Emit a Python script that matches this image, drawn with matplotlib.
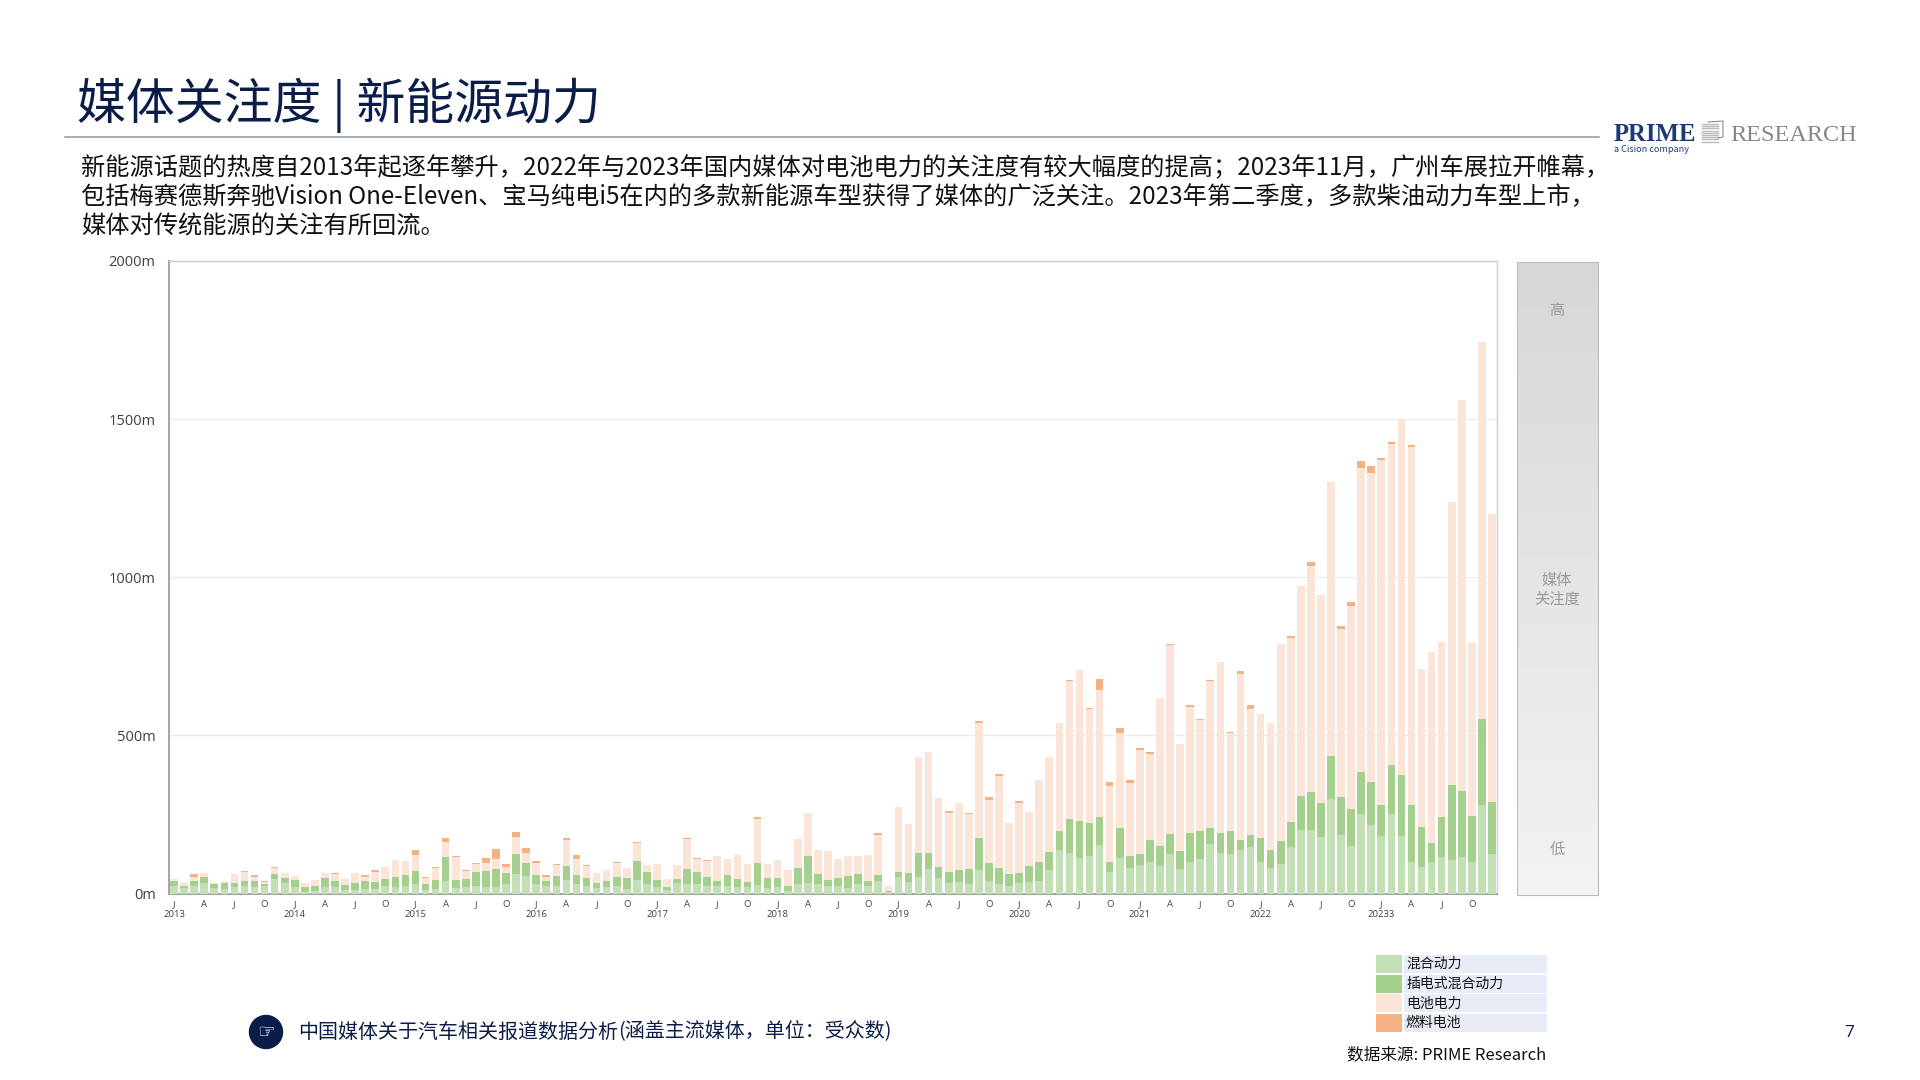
import matplotlib as mpl
mpl.use('agg')
import matplotlib.pyplot as plt
from matplotlib.patches import Ellipse, Rectangle
import numpy as np

plt.rcParams['font.family'] = ['Noto Sans CJK SC', 'DejaVu Sans']

W, H = 1920, 1080

# values in m, one per month from Jan 2013 to Dec 2023
hybrid = [23, 18, 24, 32, 18, 15, 21, 23, 19, 24, 45, 34,
          21, 6, 9, 21, 21, 11, 11, 15, 15, 25, 20, 23,
          31, 11, 14, 39, 17, 19, 23, 20, 21, 31, 61, 56,
          31, 23, 23, 42, 31, 23, 17, 19, 23, 13, 43, 31,
          21, 12, 32, 31, 31, 24, 24, 23, 21, 19, 27, 18,
          20, 7, 31, 33, 31, 24, 24, 16, 31, 24, 38, 5,
          52, 35, 52, 78, 50, 33, 35, 31, 75, 38, 30, 25,
          34, 36, 40, 73, 138, 127, 113, 117, 153, 68, 111, 82,
          90, 100, 88, 126, 77, 101, 110, 156, 127, 124, 137, 147,
          99, 80, 93, 147, 200, 200, 179, 298, 185, 150, 250, 218,
          181, 250, 181, 101, 83, 101, 114, 107, 115, 99, 280, 124]
phev = [15, 6, 15, 20, 11, 17, 12, 16, 19, 7, 16, 16,
        21, 14, 14, 27, 18, 16, 22, 24, 20, 20, 33, 35,
        41, 18, 30, 77, 25, 26, 44, 52, 56, 35, 63, 42,
        27, 15, 32, 44, 28, 26, 16, 22, 30, 37, 59, 37,
        21, 7, 14, 45, 37, 27, 16, 35, 24, 17, 71, 32,
        28, 16, 50, 85, 32, 18, 25, 39, 31, 17, 21, 2,
        17, 30, 76, 49, 35, 35, 39, 46, 102, 58, 52, 37,
        32, 52, 61, 57, 61, 107, 116, 107, 89, 33, 95, 37,
        36, 70, 61, 63, 56, 89, 89, 51, 64, 73, 32, 37,
        78, 57, 73, 78, 108, 121, 108, 138, 120, 117, 133, 133,
        100, 157, 193, 178, 128, 60, 128, 236, 210, 146, 271, 165]
battery = [9, 8, 13, 14, 5, 7, 30, 28, 15, 6, 21, 14,
           13, 12, 19, 18, 24, 19, 33, 14, 34, 38, 52, 44,
           49, 19, 38, 47, 74, 26, 25, 23, 33, 19, 56, 31,
           40, 14, 35, 82, 51, 39, 31, 33, 44, 31, 58, 21,
           51, 26, 43, 97, 41, 51, 77, 52, 78, 56, 136, 42,
           57, 50, 91, 137, 76, 92, 59, 64, 57, 80, 126, 16,
           204, 156, 304, 321, 216, 187, 213, 175, 363, 200, 291, 162,
           221, 170, 258, 301, 340, 438, 479, 360, 400, 240, 303, 231,
           329, 272, 468, 596, 339, 400, 350, 465, 540, 311, 525, 399,
           392, 401, 623, 583, 663, 714, 657, 866, 532, 643, 964, 978,
           1090, 1015, 1127, 1132, 498, 604, 554, 896, 1236, 546, 1194, 912]
fuel = [0, 0, 9, 0, 0, 0, 0, 4, 4, 4, 2, 0,
        0, 0, 0, 0, 3, 0, 0, 5, 5, 0, 0, 0,
        17, 4, 3, 13, 3, 4, 6, 17, 30, 8, 16, 14,
        5, 6, 4, 6, 11, 3, 0, 0, 2, 0, 2, 0,
        0, 0, 0, 3, 2, 4, 0, 0, 0, 0, 9, 1,
        2, 0, 0, 0, 0, 0, 2, 0, 0, 0, 5, 0,
        0, 0, 0, 0, 0, 7, 0, 4, 4, 8, 4, 0,
        6, 0, 0, 0, 0, 2, 0, 4, 37, 12, 13, 8,
        6, 5, 2, 3, 2, 7, 4, 3, 0, 4, 11, 12,
        0, 0, 0, 6, 0, 12, 0, 0, 8, 11, 20, 23,
        6, 5, 0, 7, 0, 0, 0, 0, 0, 0, 0, 0]

series_names = ['混合动力', '插电式混合动力', '电池电力', '燃料电池']
series_colors = ['#C3DFB5', '#A5CF8C', '#FBE4D8', '#F4B183']
years = ['2013', '2014', '2015', '2016', '2017', '2018',
         '2019', '2020', '2021', '2022', '20233']
quarters = ['J', 'A', 'J', 'O']
y_ticks = [0, 500, 1000, 1500, 2000]

title = '媒体关注度 | 新能源动力'
body = ['新能源话题的热度自2013年起逐年攀升，2022年与2023年国内媒体对电池电力的关注度有较大幅度的提高；2023年11月，广州车展拉开帷幕，',
        '包括梅赛德斯奔驰Vision One-Eleven、宝马纯电i5在内的多款新能源车型获得了媒体的广泛关注。2023年第二季度，多款柴油动力车型上市，',
        '媒体对传统能源的关注有所回流。']


def px_axes(fig, x0, y0, x1, y1):
    return fig.add_axes([x0 / W, 1 - y1 / H, (x1 - x0) / W, (y1 - y0) / H])


fig = plt.figure(figsize=(W / 100, H / 100), dpi=100, facecolor='white')

# page layer in pixel coordinates, for everything around the chart
page = fig.add_axes([0, 0, 1, 1])
page.set_xlim(0, W)
page.set_ylim(H, 0)
page.axis('off')

navy = '#0B1C48'
page.text(77, 105, title, fontsize=35.2, color=navy, va='center')
page.plot([65, 1599], [137, 137], color='#8E96A6', lw=1.1)
for i, line in enumerate(body):
    page.text(81, 168 + i * 29.5, line, fontsize=17.45, color='#111111', va='center')

# logo
page.text(1614, 141, 'PRIME', family='Liberation Serif', weight='bold',
          fontsize=17.8, color='#1B3A75', va='baseline')
page.text(1730, 141, 'RESEARCH', family='Liberation Serif', fontsize=17.5,
          color='#84888C', va='baseline')
page.text(1614, 150, 'a Cision company', fontsize=6.5, color='#1B3A75', va='center')
for y in np.arange(124, 142, 2.2):
    page.plot([1702, 1718], [y, y], color='#B8BCC0', lw=1)
page.plot([1708, 1723, 1723, 1718], [122, 121, 137, 138], color='#8C9094', lw=0.8)

# footer
page.add_patch(Ellipse((266, 1032), 33, 33, color=navy))
page.text(266, 1032, '☞', fontsize=14, color='white', family='DejaVu Sans',
          ha='center', va='center')
page.text(298, 1032, '中国媒体关于汽车相关报道数据分析', fontsize=14.4, color=navy, va='center')
page.text(618, 1032, '(涵盖主流媒体，单位：受众数)', fontsize=14.4, color=navy,
          style='italic', va='center')
page.text(1849, 1033, '7', fontsize=12.5, color=navy, ha='center', va='center',
          family='Open Sans')
page.text(1347, 1055, '数据来源: PRIME Research', fontsize=12, color='#111111', va='center')

# legend
for i, (name, color) in enumerate(zip(series_names, series_colors)):
    top = 955 + i * 19.7
    page.add_patch(Rectangle((1376, top), 26, 18, color=color, lw=0))
    page.add_patch(Rectangle((1404, top), 143, 18, color='#E8ECF6', lw=0))
    page.text(1406, top + 9, name, fontsize=10, color='#111111', va='center')

# main chart
ax = px_axes(fig, 169, 261, 1497, 893.5)
x = np.arange(len(hybrid))
bottom = np.zeros(len(hybrid))
for values, name, color in zip([hybrid, phev, battery, fuel], series_names, series_colors):
    ax.bar(x, values, width=0.76, bottom=bottom, color=color, label=name, zorder=3)
    bottom += np.array(values)

ax.set_xlim(-0.5, 131.5)
ax.set_ylim(0, 2000)
ax.set_yticks(y_ticks)
ax.set_yticklabels(['%dm' % v for v in y_ticks], fontsize=10.5, color='#404040',
                   family=['Open Sans', 'DejaVu Sans'])
ax.set_xticks(x[::3])
labels = []
for i in range(len(x[::3])):
    lab = quarters[i % 4]
    if i % 4 == 0:
        lab += '\n' + years[i // 4]
    labels.append(lab)
ax.set_xticklabels(labels, fontsize=6.8, color='#404040', linespacing=1.15,
                   family=['Open Sans', 'DejaVu Sans'])
ax.tick_params(axis='both', length=0)
ax.tick_params(axis='x', pad=4.5)
ax.tick_params(axis='y', pad=9.6)
ax.grid(axis='y', color='#EBEBEB', lw=1, zorder=0)
for side in ['left', 'bottom']:
    ax.spines[side].set_color('#A6A6A6')
    ax.spines[side].set_linewidth(1.5)
for side in ['top', 'right']:
    ax.spines[side].set_color('#CFCFCF')
    ax.spines[side].set_linewidth(1.0)

# attention scale panel
panel = px_axes(fig, 1517, 262, 1598, 895)
panel.imshow(np.linspace(0, 1, 256).reshape(-1, 1), cmap=mpl.colors.LinearSegmentedColormap.from_list(
    'panel', ['#D7D7D7', '#F3F3F3']), aspect='auto', extent=(0, 1, 0, 1))
panel.set_xticks([])
panel.set_yticks([])
for s in panel.spines.values():
    s.set_color('#BDBDBD')
panel_texts = [(311, '高', 'normal'), (580, '媒体', 'italic'), (599, '关注度', 'italic'), (849, '低', 'normal')]
for y, label, style in panel_texts:
    panel.text(1557, y, label, transform=page.transData, fontsize=11, color='#9A9A9A',
               ha='center', va='center', style=style)

fig.savefig('out.png', dpi=100)
plt.close(fig)
